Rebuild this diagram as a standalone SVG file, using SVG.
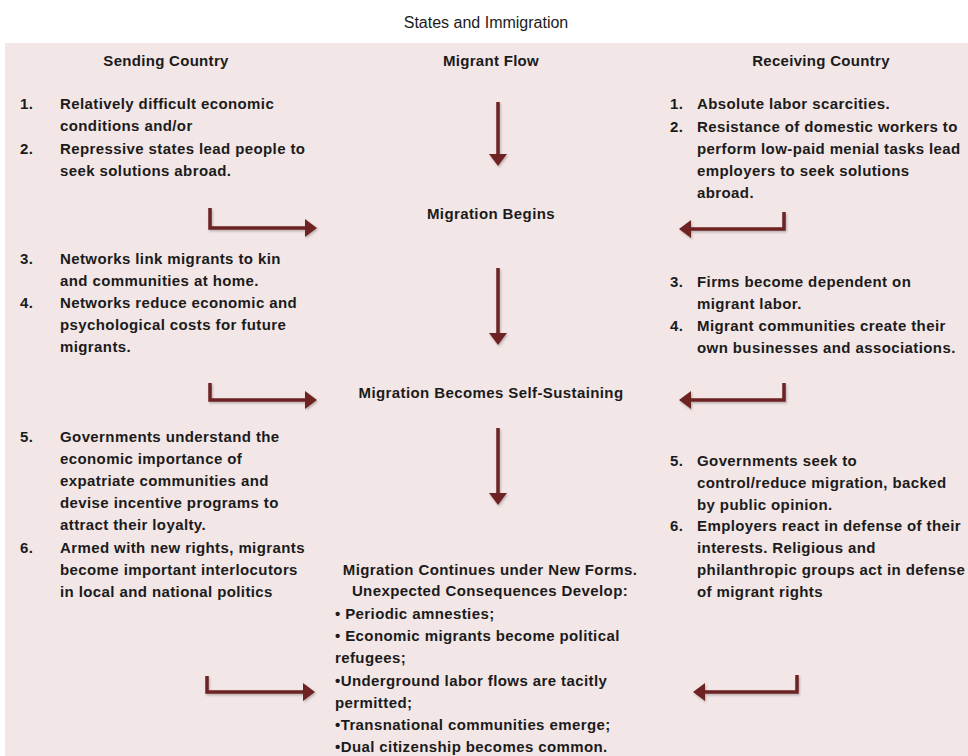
<svg xmlns="http://www.w3.org/2000/svg" width="968" height="756" viewBox="0 0 968 756">
  <style>
    .t { font-family: "Liberation Sans", Arial, sans-serif; font-size: 15px; font-weight: bold; fill: #1b1b1b; letter-spacing: 0.4px; }
    .h { font-family: "Liberation Sans", Arial, sans-serif; font-size: 15px; font-weight: bold; fill: #1b1b1b; text-anchor: middle; letter-spacing: 0.3px; }
    .title { font-family: "Liberation Sans", Arial, sans-serif; font-size: 16px; fill: #1b1b1b; text-anchor: middle; }
    .c { text-anchor: middle; }
    .conn { fill: none; stroke: #6e2323; stroke-width: 3.5; }
  </style>
  <defs>
    <marker id="head" viewBox="0 0 12 18" refX="2" refY="9" markerWidth="12" markerHeight="18" markerUnits="userSpaceOnUse" orient="auto">
      <path d="M0,0 L12,9 L0,18 Z" fill="#6e2323"/>
    </marker>
    <filter id="soft" filterUnits="userSpaceOnUse" x="0" y="0" width="968" height="756">
      <feDropShadow dx="1" dy="1.5" stdDeviation="1" flood-color="#000" flood-opacity="0.25"/>
    </filter>
  </defs>

  <rect x="0" y="0" width="968" height="756" fill="#ffffff"/>
  <text class="title" x="486" y="28">States and Immigration</text>
  <rect x="5" y="43" width="963" height="713" fill="#f2e6e6"/>

  <!-- column headings -->
  <g id="headers">
    <text class="h" x="166" y="66">Sending Country</text>
    <text class="h" x="491" y="66">Migrant Flow</text>
    <text class="h" x="821" y="66">Receiving Country</text>
  </g>

  <!-- sending country, stage 1 -->
  <g id="send1" class="t">
    <text x="20" y="109">1.</text><text x="60" y="109">Relatively difficult economic</text>
    <text x="60" y="131">conditions and/or</text>
    <text x="20" y="154">2.</text><text x="60" y="154">Repressive states lead people to</text>
    <text x="60" y="176">seek solutions abroad.</text>
  </g>

  <!-- receiving country, stage 1 -->
  <g id="recv1" class="t">
    <text x="670" y="109">1.</text><text x="697" y="109">Absolute labor scarcities.</text>
    <text x="670" y="132">2.</text><text x="697" y="132">Resistance of domestic workers to</text>
    <text x="697" y="154">perform low-paid menial tasks lead</text>
    <text x="697" y="176">employers to seek solutions</text>
    <text x="697" y="198">abroad.</text>
  </g>

  <g id="flow1" class="t c">
    <text x="491" y="219">Migration Begins</text>
  </g>

  <!-- sending country, stage 2 -->
  <g id="send2" class="t">
    <text x="20" y="264">3.</text><text x="60" y="264">Networks link migrants to kin</text>
    <text x="60" y="286">and communities at home.</text>
    <text x="20" y="308">4.</text><text x="60" y="308">Networks reduce economic and</text>
    <text x="60" y="330">psychological costs for future</text>
    <text x="60" y="352">migrants.</text>
  </g>

  <!-- receiving country, stage 2 -->
  <g id="recv2" class="t">
    <text x="670" y="287">3.</text><text x="697" y="287">Firms become dependent on</text>
    <text x="697" y="309">migrant labor.</text>
    <text x="670" y="331">4.</text><text x="697" y="331">Migrant communities create their</text>
    <text x="697" y="353">own businesses and associations.</text>
  </g>

  <g id="flow2" class="t c">
    <text x="491" y="398">Migration Becomes Self-Sustaining</text>
  </g>

  <!-- sending country, stage 3 -->
  <g id="send3" class="t">
    <text x="20" y="442">5.</text><text x="60" y="442">Governments understand the</text>
    <text x="60" y="464">economic importance of</text>
    <text x="60" y="486">expatriate communities and</text>
    <text x="60" y="508">devise incentive programs to</text>
    <text x="60" y="530">attract their loyalty.</text>
    <text x="20" y="553">6.</text><text x="60" y="553">Armed with new rights, migrants</text>
    <text x="60" y="575">become important interlocutors</text>
    <text x="60" y="597">in local and national politics</text>
  </g>

  <!-- receiving country, stage 3 -->
  <g id="recv3" class="t">
    <text x="670" y="466">5.</text><text x="697" y="466">Governments seek to</text>
    <text x="697" y="488">control/reduce migration, backed</text>
    <text x="697" y="510">by public opinion.</text>
    <text x="670" y="531">6.</text><text x="697" y="531">Employers react in defense of their</text>
    <text x="697" y="553">interests. Religious and</text>
    <text x="697" y="575">philanthropic groups act in defense</text>
    <text x="697" y="597">of migrant rights</text>
  </g>

  <!-- outcome -->
  <g id="flow3" class="t">
    <text class="c" x="490" y="575">Migration Continues under New Forms.</text>
    <text class="c" x="490" y="596">Unexpected Consequences Develop:</text>
    <text x="335" y="619">• Periodic amnesties;</text>
    <text x="335" y="641">• Economic migrants become political</text>
    <text x="335" y="663">refugees;</text>
    <text x="335" y="686">•Underground labor flows are tacitly</text>
    <text x="335" y="708">permitted;</text>
    <text x="335" y="730">•Transnational communities emerge;</text>
    <text x="335" y="752">•Dual citizenship becomes common.</text>
  </g>

  <!-- connectors -->
  <g id="connectors" filter="url(#soft)">
    <path class="conn" d="M498,102 V156" marker-end="url(#head)"/>
    <path class="conn" d="M498,268 V335" marker-end="url(#head)"/>
    <path class="conn" d="M498,428 V495" marker-end="url(#head)"/>

    <path class="conn" d="M210,208 V228 H307" marker-end="url(#head)"/>
    <path class="conn" d="M784,212 V229 H689" marker-end="url(#head)"/>

    <path class="conn" d="M210,383 V400 H307" marker-end="url(#head)"/>
    <path class="conn" d="M784,383 V400 H689" marker-end="url(#head)"/>

    <path class="conn" d="M207,676 V692 H305" marker-end="url(#head)"/>
    <path class="conn" d="M797,675 V692 H703" marker-end="url(#head)"/>
  </g>
</svg>
